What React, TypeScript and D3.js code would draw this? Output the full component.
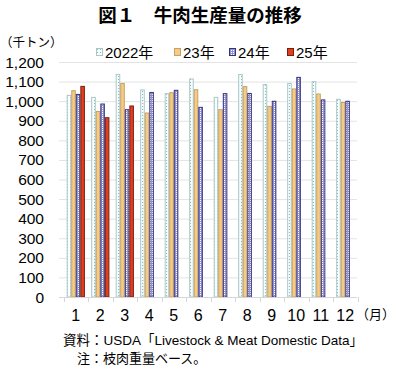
import React, { useRef, useEffect } from 'react';
import * as d3 from 'd3';

const months = ['1', '2', '3', '4', '5', '6', '7', '8', '9', '10', '11', '12'];
const seriesNames = ['2022年', '23年', '24年', '25年'];
const y2022 = [1032, 1022, 1139, 1060, 1041, 1116, 1022, 1139, 1087, 1093, 1102, 1012];
const y2023 = [1056, 950, 1093, 942, 1046, 1061, 959, 1077, 976, 1065, 1039, 996];
const y2024 = [1037, 988, 959, 1047, 1058, 971, 1041, 1042, 1002, 1124, 1009, 1002];
const y2025 = [1078, 918, 978];
const yTicks = [0, 100, 200, 300, 400, 500, 600, 700, 800, 900, 1000, 1100, 1200];

const fills = ['url(#p2022)', '#f6cb86', 'url(#p2024)', '#e0401e'];
const strokes = ['#a9c6c8', '#c9a065', '#34347a', '#7a1e12'];

const jp = '"Noto Sans CJK JP", sans-serif';
const mixed = '"Liberation Sans", "Noto Sans CJK JP", sans-serif';

export default function App() {
    const ref = useRef(null);

    useEffect(() => {
        if (!ref.current) return;
        const svg = d3.select(ref.current);
        svg.selectAll('*').remove();

        const defs = svg.append('defs');
        const p1 = defs.append('pattern').attr('id', 'p2022')
            .attr('width', 3).attr('height', 3).attr('patternUnits', 'userSpaceOnUse');
        p1.append('rect').attr('width', 3).attr('height', 3).attr('fill', '#fbfefe');
        p1.append('rect').attr('x', 1).attr('y', 1).attr('width', 1).attr('height', 1).attr('fill', '#7fbcbc');
        const p3 = defs.append('pattern').attr('id', 'p2024')
            .attr('width', 2).attr('height', 2).attr('patternUnits', 'userSpaceOnUse');
        p3.append('rect').attr('width', 2).attr('height', 2).attr('fill', '#9494d4');
        p3.append('rect').attr('width', 1).attr('height', 1).attr('fill', '#ffffff');

        const x = d3.scaleBand<string>().domain(months).range([63.5, 357.5]);
        const inner = d3.scaleBand<number>().domain([0, 1, 2, 3]).range([3.2, 21.4]);
        const y = d3.scaleLinear().domain([0, 1200]).range([297, 62]);

        // title
        svg.append('text').attr('x', 200).attr('y', 22).attr('text-anchor', 'middle')
            .attr('font-family', jp).attr('font-weight', 'bold').attr('font-size', 18.5)
            .text('図１　牛肉生産量の推移');
        svg.append('text').attr('x', 0).attr('y', 47)
            .attr('font-family', jp).attr('font-size', 12.5).text('（千トン）');

        // grid
        svg.append('g').selectAll('line').data(yTicks.filter(t => t > 0)).enter()
            .append('line')
            .attr('x1', 59).attr('x2', 357)
            .attr('y1', d => y(d) + 0.5).attr('y2', d => y(d) + 0.5)
            .attr('stroke', '#e3e3e3');

        // y labels
        svg.append('g').selectAll('text').data(yTicks).enter()
            .append('text')
            .attr('x', 44).attr('y', d => y(d) + 5.5).attr('text-anchor', 'end')
            .attr('font-family', mixed).attr('font-size', 15.5)
            .text(d => d3.format(',')(d));

        // bars
        const all = [y2022, y2023, y2024, y2025];
        all.forEach((vals, si) => {
            svg.append('g').selectAll('rect').data(vals).enter()
                .append('rect')
                .attr('x', (d, i) => (x(months[i]) as number) + (inner(si) as number) + 0.5)
                .attr('width', inner.bandwidth() - 1)
                .attr('y', d => y(d) + 0.5)
                .attr('height', d => y(0) - y(d) - 0.5)
                .attr('fill', fills[si])
                .attr('stroke', strokes[si]).attr('stroke-width', 1);
        });

        // x axis
        svg.append('line').attr('x1', 59).attr('x2', 357).attr('y1', 297.5).attr('y2', 297.5)
            .attr('stroke', '#d6d6d6');
        svg.append('g').selectAll('line').data(months.concat(['end'])).enter()
            .append('line')
            .attr('x1', (d, i) => Math.round(63.5 + i * x.bandwidth()) + 0.5)
            .attr('x2', (d, i) => Math.round(63.5 + i * x.bandwidth()) + 0.5)
            .attr('y1', 297).attr('y2', 302).attr('stroke', '#d6d6d6');
        svg.append('g').selectAll('text').data(months).enter()
            .append('text')
            .attr('x', d => (x(d) as number) + x.bandwidth() / 2)
            .attr('y', 321).attr('text-anchor', 'middle')
            .attr('font-family', mixed).attr('font-size', 16)
            .text(d => d);
        svg.append('text').attr('x', 356).attr('y', 319)
            .attr('font-family', jp).attr('font-size', 13).text('（月）');

        // legend
        const legX = [96, 174, 229, 287];
        seriesNames.forEach((s, i) => {
            const g = svg.append('g').attr('transform', `translate(${legX[i]},48)`);
            g.append('rect').attr('x', 0.5).attr('y', 0.5).attr('width', 6).attr('height', 7)
                .attr('fill', fills[i]).attr('stroke', strokes[i]);
            g.append('text').attr('x', 9).attr('y', 10)
                .attr('font-family', mixed).attr('font-size', 15).text(s);
        });

        // notes
        svg.append('text').attr('x', 63).attr('y', 345)
            .attr('font-family', mixed).attr('font-size', 13.5)
            .text('資料：USDA「Livestock & Meat Domestic Data」');
        svg.append('text').attr('x', 77).attr('y', 363)
            .attr('font-family', mixed).attr('font-size', 13)
            .text('注：枝肉重量ベース。');
    }, []);

    return (
        <svg ref={ref} width={400} height={367}
            style={{ position: 'absolute', left: 0, top: 0, background: '#fff' }} />
    );
}
